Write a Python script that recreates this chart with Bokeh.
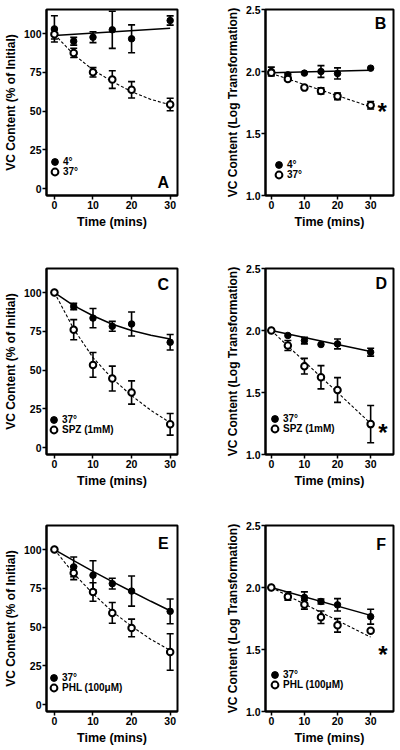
from bokeh.plotting import figure
from bokeh.layouts import column, row
from bokeh.models import (ColumnDataSource, Whisker, TeeHead, Legend, LegendItem,
                          Label, FixedTicker, Range1d, PrintfTickFormatter)
from bokeh.embed import file_html
from bokeh.resources import INLINE

# ---------------- data ----------------
time_min = [0, 5, 10, 15, 20, 30]
fit_time_curve = [0, 5, 10, 15, 20, 25, 30]
fit_time_line = [0, 30]

pct_ticks = [0, 25, 50, 75, 100]
log_ticks = [1.0, 1.5, 2.0, 2.5]
time_ticks = [0, 10, 20, 30]

# Panel A (% of initial): 4 deg vs 37 deg
a_4c = [103.0, 95.0, 97.6, 102.4, 96.6, 108.4]
a_4c_err = [8.5, 2.5, 3.5, 12.0, 9.0, 3.0]
a_37c = [99.5, 87.5, 75.0, 70.3, 63.7, 54.2]
a_37c_err = [3.0, 3.0, 3.0, 5.7, 5.3, 4.0]
a_4c_fit = [98.7, 103.4]
a_37c_fit = [99.5, 86.5, 76.5, 69.0, 62.5, 57.5, 54.0]

# Panel B (log transformation): 4 deg vs 37 deg
b_4c = [2.0, 1.973, 1.987, 2.0, 1.984, 2.027]
b_4c_err = [0.035, 0.015, 0.0, 0.047, 0.045, 0.0]
b_37c = [1.99, 1.94, 1.87, 1.843, 1.80, 1.728]
b_37c_err = [0.012, 0.012, 0.0, 0.025, 0.027, 0.03]
b_4c_fit = [1.99, 2.01]
b_37c_fit = [1.985, 1.715]

# Panel C (% of initial): 37 deg vs SPZ (1mM)
c_ctrl = [100.0, 91.0, 83.5, 78.2, 79.7, 67.9]
c_ctrl_err = [0.0, 2.0, 6.2, 3.2, 7.7, 5.0]
c_spz = [100.0, 76.0, 53.3, 44.5, 35.5, 15.0]
c_spz_err = [0.0, 6.5, 8.0, 8.0, 7.5, 7.0]
c_ctrl_fit = [100.0, 91.5, 85.0, 79.5, 75.5, 72.5, 70.0]
c_spz_fit = [100.0, 76.5, 58.0, 44.5, 33.5, 24.0, 16.0]

# Panel D (log transformation): 37 deg vs SPZ (1mM)
d_ctrl = [2.0, 1.96, 1.919, 1.887, 1.892, 1.825]
d_ctrl_err = [0.0, 0.0, 0.027, 0.0, 0.04, 0.032]
d_spz = [2.0, 1.879, 1.712, 1.623, 1.52, 1.245]
d_spz_err = [0.0, 0.04, 0.063, 0.094, 0.1, 0.15]
d_ctrl_fit = [2.0, 1.83]
d_spz_fit = [2.0, 1.25]

# Panel E (% of initial): 37 deg vs PHL (100uM)
e_ctrl = [100.0, 88.8, 83.4, 78.0, 73.2, 60.1]
e_ctrl_err = [0.0, 6.4, 9.4, 3.5, 9.7, 8.0]
e_phl = [100.0, 84.9, 72.6, 59.1, 49.4, 33.9]
e_phl_err = [0.0, 4.3, 6.0, 6.7, 5.7, 11.8]
e_ctrl_fit = [100.0, 92.8, 85.9, 79.3, 72.9, 66.6, 60.5]
e_phl_fit = [100.0, 84.5, 71.5, 60.0, 50.5, 42.0, 35.0]

# Panel F (log transformation): 37 deg vs PHL (100uM)
f_ctrl = [2.0, 1.932, 1.92, 1.887, 1.86, 1.765]
f_ctrl_err = [0.0, 0.034, 0.045, 0.02, 0.05, 0.06]
f_phl = [2.0, 1.925, 1.862, 1.76, 1.695, 1.652]
f_phl_err = [0.0, 0.0, 0.036, 0.05, 0.055, 0.0]
f_ctrl_fit = [2.0, 1.775]
f_phl_fit = [2.0, 1.60]

# ---------------- styling helpers ----------------
FONT = "Liberation Sans"


def make_panel(kind, w, h, bl, br, bt, bb):
    if kind == "pct":
        xr, yr = Range1d(-2.05, 31.9), Range1d(-4.5, 115.5)
        ylab, yt, fmt = "VC Content (% of Initial)", pct_ticks, "%d"
    else:
        xr, yr = Range1d(-1.75, 36.9), Range1d(1.0, 2.5)
        ylab, yt, fmt = "VC Content (Log Transformation)", log_ticks, "%.1f"
    p = figure(width=w, height=h, x_range=xr, y_range=yr,
               output_backend="svg", toolbar_location=None,
               min_border_left=bl, min_border_right=br,
               min_border_top=bt, min_border_bottom=bb)
    p.xgrid.visible = False
    p.ygrid.visible = False
    p.background_fill_color = "white"
    p.border_fill_color = "white"
    p.outline_line_color = "black"
    p.outline_line_width = 2
    p.outline_line_alpha = 1
    p.xaxis.ticker = FixedTicker(ticks=time_ticks)
    p.yaxis.ticker = FixedTicker(ticks=yt)
    p.yaxis.formatter = PrintfTickFormatter(format=fmt)
    p.xaxis.axis_label = "Time (mins)"
    p.yaxis.axis_label = ylab
    for ax in (p.xaxis[0], p.yaxis[0]):
        ax.axis_line_color = "black"
        ax.axis_line_width = 2
        ax.major_tick_line_color = "black"
        ax.major_tick_line_width = 1.5
        ax.major_tick_out = 4
        ax.major_tick_in = 0
        ax.minor_tick_line_color = None
        ax.major_label_text_font = FONT
        ax.major_label_text_font_style = "bold"
        ax.major_label_text_font_size = "10.5px"
        ax.major_label_text_color = "black"
        ax.major_label_standoff = 1
        ax.axis_label_text_font = FONT
        ax.axis_label_text_font_style = "bold"
        ax.axis_label_text_color = "black"
    p.xaxis.axis_label_text_font_size = "12.5px"
    p.yaxis.axis_label_text_font_size = "12px"
    p.xaxis.axis_label_standoff = 3
    p.yaxis.axis_label_standoff = 3
    return p


def draw_series(p, vals, errs, fit_t, fit_vals, filled):
    keep = [i for i, e in enumerate(errs) if e > 0]
    wsrc = ColumnDataSource(dict(
        t=[time_min[i] for i in keep],
        upper=[vals[i] + errs[i] for i in keep],
        lower=[vals[i] - errs[i] for i in keep]))
    wh = Whisker(source=wsrc, base="t", upper="upper", lower="lower",
                 line_color="black", line_width=1.6,
                 upper_head=TeeHead(size=7, line_color="black", line_width=1.6),
                 lower_head=TeeHead(size=7, line_color="black", line_width=1.6))
    p.add_layout(wh)
    if filled:
        p.line(fit_t, fit_vals, line_color="black", line_width=1.5)
    else:
        p.line(fit_t, fit_vals, line_color="black", line_width=1.1, line_dash="3 2")
    src = ColumnDataSource(dict(t=time_min, v=vals))
    if filled:
        r = p.scatter("t", "v", source=src, marker="circle", size=6.5,
                      fill_color="black", line_color="black", line_width=1)
    else:
        r = p.scatter("t", "v", source=src, marker="circle", size=6.5,
                      fill_color="white", line_color="black", line_width=2)
    return r


def add_legend_item(p, r, lab, loc):
    leg = Legend(items=[LegendItem(label=lab, renderers=[r])],
                 location=loc, orientation="vertical",
                 glyph_width=17, glyph_height=17, spacing=0,
                 padding=0, margin=0, label_standoff=0, label_height=10,
                 label_text_font=FONT, label_text_font_style="bold",
                 label_text_font_size="10px", label_text_color="black",
                 background_fill_alpha=0, border_line_alpha=0)
    p.add_layout(leg)


def letter(p, txt, x, y):
    p.add_layout(Label(x=x, y=y, text=txt, text_font=FONT, text_font_style="bold",
                       text_font_size="16px", text_align="center",
                       text_baseline="middle", text_color="black"))


def star(p, x, y):
    p.add_layout(Label(x=x, y=y, text="*", text_font=FONT, text_font_style="bold",
                       text_font_size="24px", text_align="center",
                       text_baseline="middle", text_color="black", y_offset=-5))


LW, LBL, LBR = 200, 46, 23
RW, RBL, RBR = 198, 65, 5

# Row 1
pA = make_panel("pct", LW, 262, LBL, LBR, 9, 67)
rA1 = draw_series(pA, a_4c, a_4c_err, fit_time_line, a_4c_fit, True)
rA2 = draw_series(pA, a_37c, a_37c_err, fit_time_curve, a_37c_fit, False)
add_legend_item(pA, rA1, "4°", (0, 25))
add_legend_item(pA, rA2, "37°", (0, 15))
letter(pA, "A", 28.2, 3.9)

pB = make_panel("log", RW, 262, RBL, RBR, 9, 67)
rB1 = draw_series(pB, b_4c, b_4c_err, fit_time_line, b_4c_fit, True)
rB2 = draw_series(pB, b_37c, b_37c_err, fit_time_line, b_37c_fit, False)
add_legend_item(pB, rB1, "4°", (5, 22))
add_legend_item(pB, rB2, "37°", (5, 12))
letter(pB, "B", 33.0, 2.384)
star(pB, 33.5, 1.716)

# Row 2
pC = make_panel("pct", LW, 257, LBL, LBR, 6, 65)
rC1 = draw_series(pC, c_ctrl, c_ctrl_err, fit_time_curve, c_ctrl_fit, True)
rC2 = draw_series(pC, c_spz, c_spz_err, fit_time_curve, c_spz_fit, False)
add_legend_item(pC, rC1, "37°", (-1, 26))
add_legend_item(pC, rC2, "SPZ (1mM)", (-1, 16))
letter(pC, "C", 28.2, 105.3)

pD = make_panel("log", RW, 257, RBL, RBR, 6, 65)
rD1 = draw_series(pD, d_ctrl, d_ctrl_err, fit_time_line, d_ctrl_fit, True)
rD2 = draw_series(pD, d_spz, d_spz_err, fit_time_line, d_spz_fit, False)
add_legend_item(pD, rD1, "37°", (1, 27))
add_legend_item(pD, rD2, "SPZ (1mM)", (1, 17))
letter(pD, "D", 33.2, 2.38)
star(pD, 33.7, 1.22)

# Row 3
pE = make_panel("pct", LW, 229, LBL, LBR, 6, 37)
rE1 = draw_series(pE, e_ctrl, e_ctrl_err, fit_time_curve, e_ctrl_fit, True)
rE2 = draw_series(pE, e_phl, e_phl_err, fit_time_curve, e_phl_fit, False)
add_legend_item(pE, rE1, "37°", (-1, 25))
add_legend_item(pE, rE2, "PHL (100μM)", (-1, 15))
letter(pE, "E", 28.2, 103.9)

pF = make_panel("log", RW, 229, RBL, RBR, 6, 37)
rF1 = draw_series(pF, f_ctrl, f_ctrl_err, fit_time_line, f_ctrl_fit, True)
rF2 = draw_series(pF, f_phl, f_phl_err, fit_time_line, f_phl_fit, False)
add_legend_item(pF, rF1, "37°", (1, 28))
add_legend_item(pF, rF2, "PHL (100μM)", (1, 18))
letter(pF, "F", 33.2, 2.35)
star(pF, 33.7, 1.5)

layout = column(row(pA, pB), row(pC, pD), row(pE, pF))

open("out.html", "w").write(file_html(layout, INLINE))
